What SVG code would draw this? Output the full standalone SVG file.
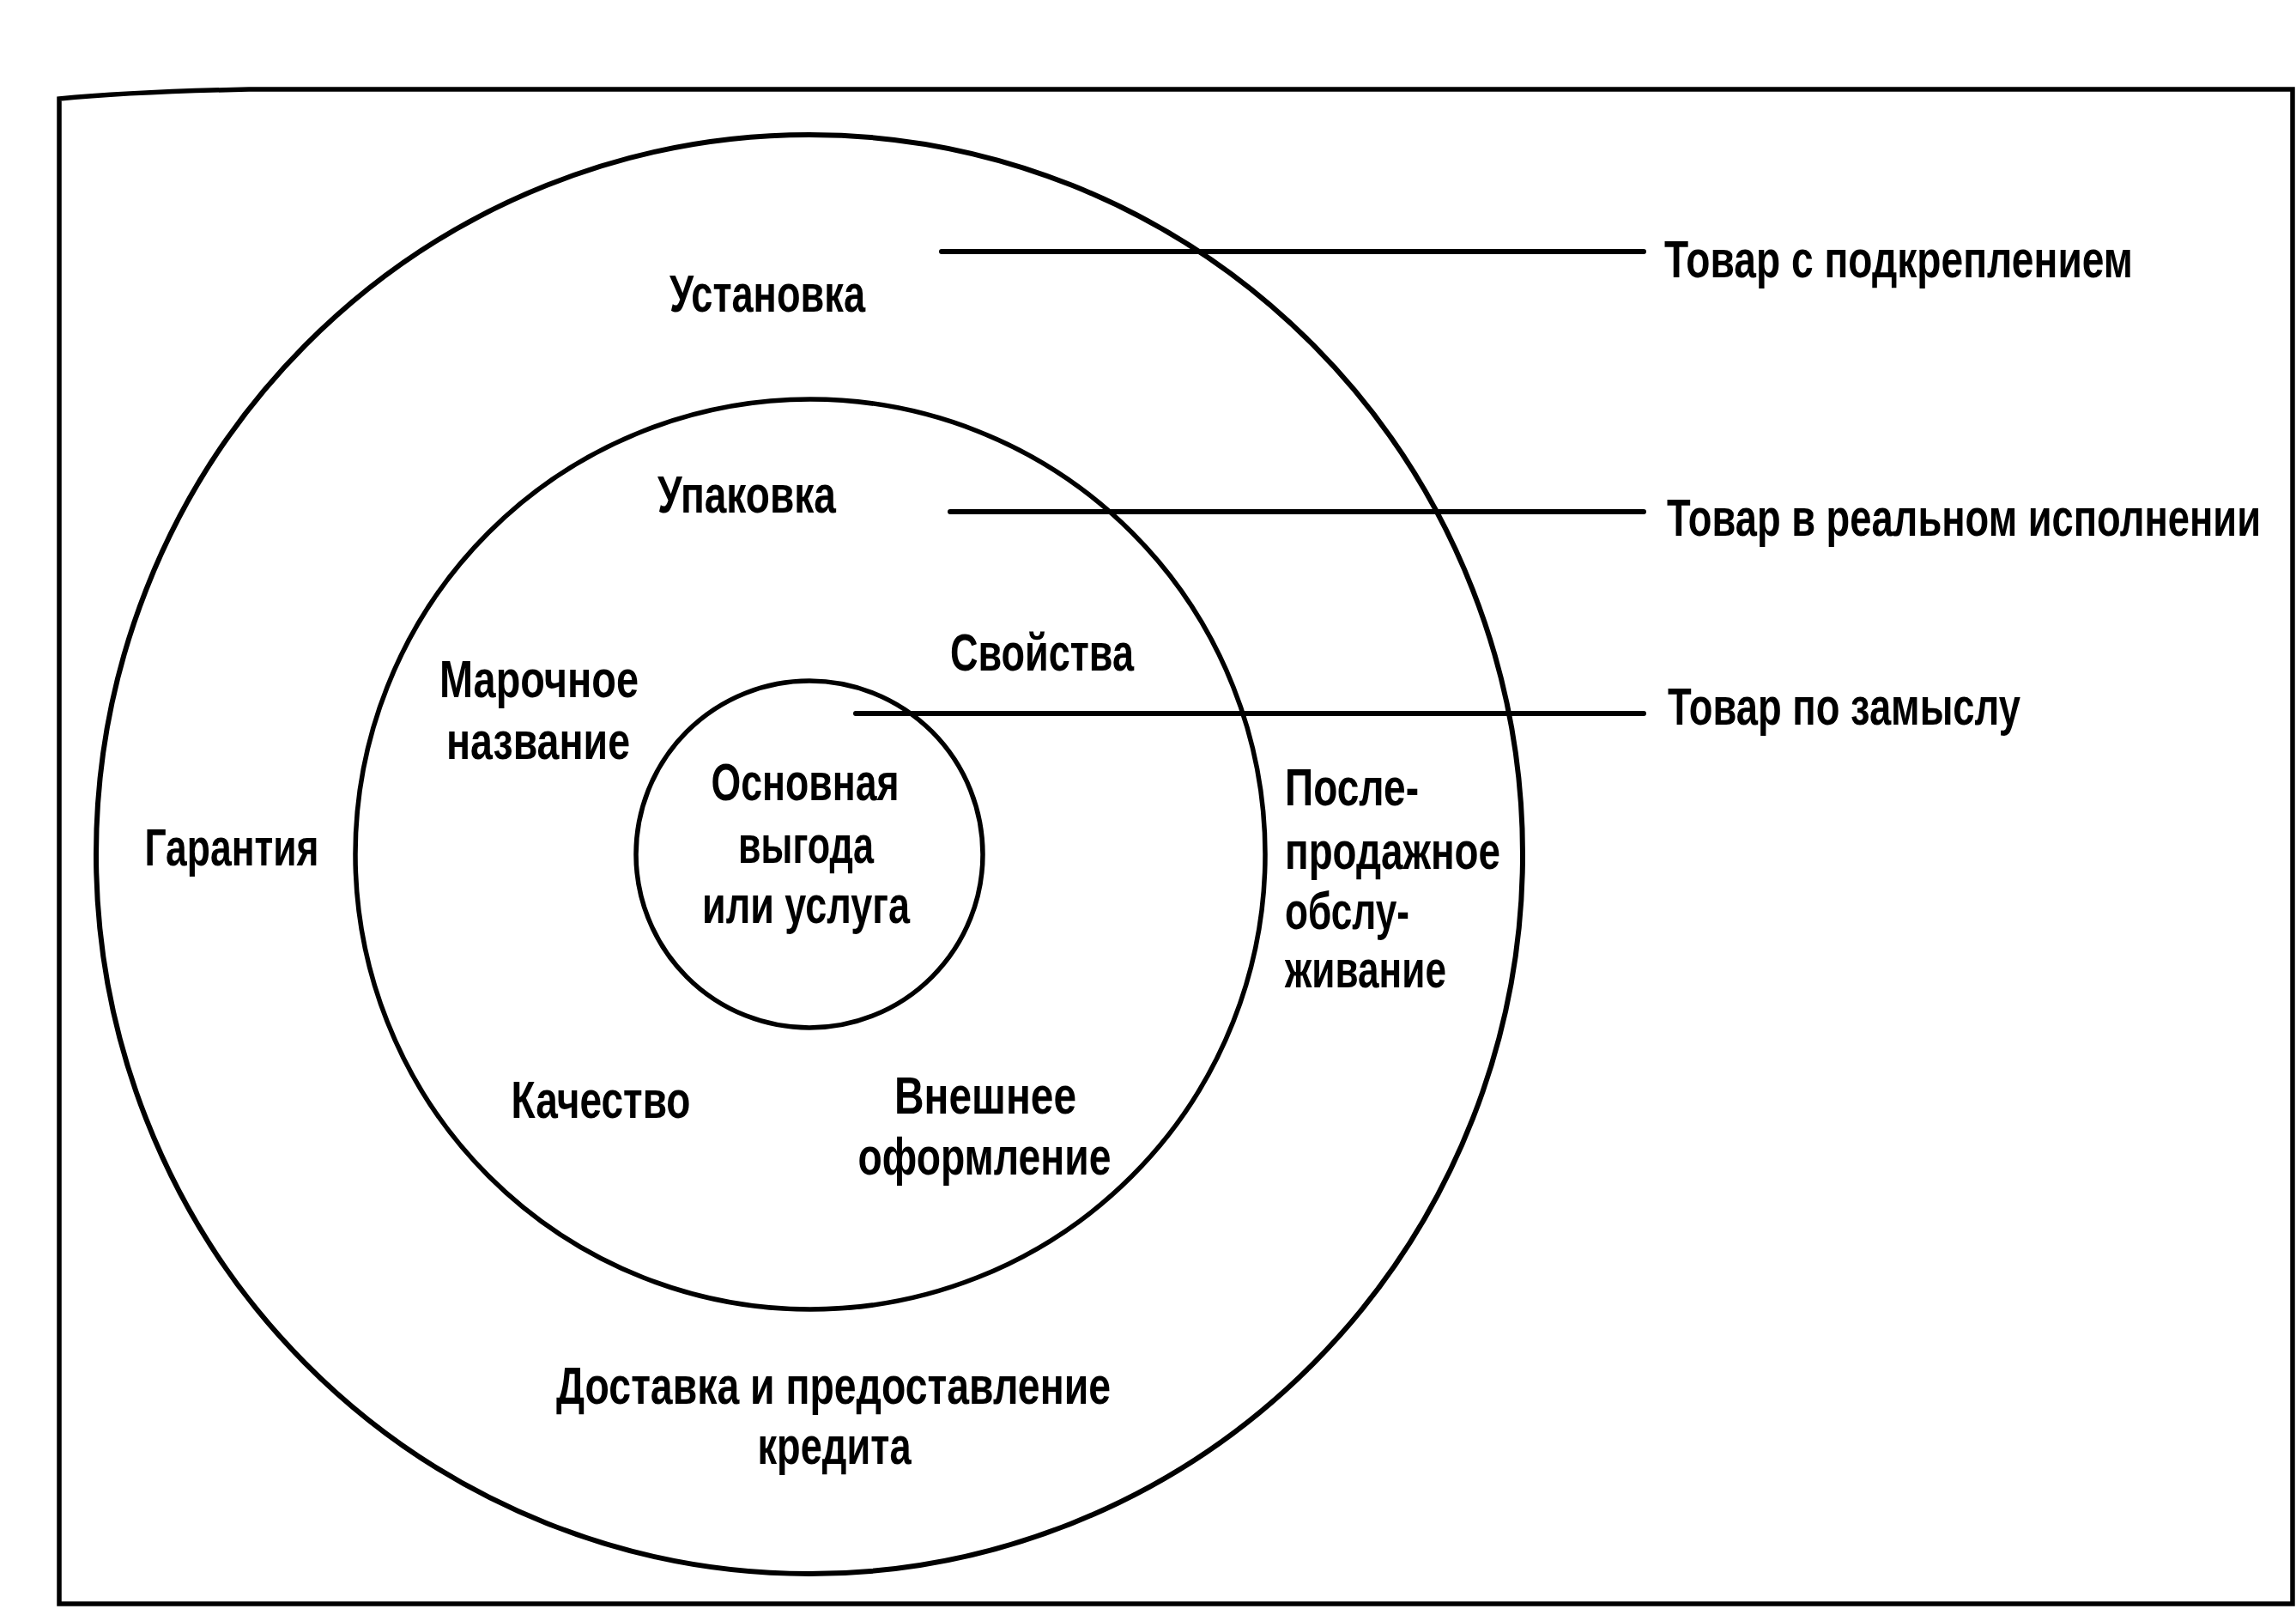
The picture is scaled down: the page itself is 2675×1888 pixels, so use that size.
<svg xmlns="http://www.w3.org/2000/svg" width="2675" height="1888" viewBox="0 0 2675 1888">
<style>
.bg{fill:#ffffff}
.frame{fill:none;stroke:#000;stroke-width:5.5}
.ring{fill:none;stroke:#000}
.conn{stroke:#000;stroke-width:6;stroke-linecap:round;fill:none}
text{font-family:"Liberation Sans Narrow","Liberation Sans",Arial,sans-serif;font-weight:bold;font-size:62px;fill:#000}
.c{text-anchor:middle}
.s{text-anchor:start}
</style>
<rect class="bg" x="0" y="0" width="2675" height="1888"/>
<g id="frame">
<path class="frame" d="M69,1868 L69,115 Q150,107 290,104 L2671,104 L2671,1868 Z"/>
</g>
<g id="augmented-product">
<ellipse class="ring" cx="943" cy="995" rx="831" ry="838" stroke-width="6"/>
<text class="c" x="894" y="363" textLength="228" lengthAdjust="spacingAndGlyphs">Установка</text>
<text class="c" x="270" y="1008" textLength="203" lengthAdjust="spacingAndGlyphs">Гарантия</text>
<text class="s" x="1497" y="938" textLength="156" lengthAdjust="spacingAndGlyphs">После-</text>
<text class="s" x="1497" y="1012" textLength="251" lengthAdjust="spacingAndGlyphs">продажное</text>
<text class="s" x="1497" y="1082" textLength="145" lengthAdjust="spacingAndGlyphs">обслу-</text>
<text class="s" x="1497" y="1150" textLength="188" lengthAdjust="spacingAndGlyphs">живание</text>
<text class="c" x="971" y="1635" textLength="646" lengthAdjust="spacingAndGlyphs">Доставка и предоставление</text>
<text class="c" x="972" y="1705" textLength="179" lengthAdjust="spacingAndGlyphs">кредита</text>
</g>
<g id="actual-product">
<circle class="ring" cx="944" cy="995" r="530" stroke-width="5.5"/>
<text class="c" x="870" y="597" textLength="208" lengthAdjust="spacingAndGlyphs">Упаковка</text>
<text class="c" x="628" y="812" textLength="232" lengthAdjust="spacingAndGlyphs">Марочное</text>
<text class="c" x="627" y="884" textLength="214" lengthAdjust="spacingAndGlyphs">название</text>
<text class="c" x="1214" y="781" textLength="214" lengthAdjust="spacingAndGlyphs">Свойства</text>
<text class="c" x="700" y="1302" textLength="209" lengthAdjust="spacingAndGlyphs">Качество</text>
<text class="c" x="1148" y="1297" textLength="212" lengthAdjust="spacingAndGlyphs">Внешнее</text>
<text class="c" x="1147" y="1368" textLength="295" lengthAdjust="spacingAndGlyphs">оформление</text>
</g>
<g id="core-product">
<circle class="ring" cx="943" cy="995" r="202" stroke-width="5.5"/>
<text class="c" x="938" y="932" textLength="219" lengthAdjust="spacingAndGlyphs">Основная</text>
<text class="c" x="939" y="1005" textLength="158" lengthAdjust="spacingAndGlyphs">выгода</text>
<text class="c" x="939" y="1075" textLength="242" lengthAdjust="spacingAndGlyphs">или услуга</text>
</g>
<g id="connectors">
<line class="conn" x1="1097" y1="293" x2="1915" y2="293"/>
<line class="conn" x1="1107" y1="596" x2="1915" y2="596"/>
<line class="conn" x1="997" y1="831" x2="1915" y2="831"/>
</g>
<g id="label-augmented">
<text class="s" x="1939" y="323" textLength="546" lengthAdjust="spacingAndGlyphs">Товар с подкреплением</text>
</g>
<g id="label-actual">
<text class="s" x="1942" y="624" textLength="692" lengthAdjust="spacingAndGlyphs">Товар в реальном исполнении</text>
</g>
<g id="label-core">
<text class="s" x="1943" y="844" textLength="411" lengthAdjust="spacingAndGlyphs">Товар по замыслу</text>
</g>
</svg>
